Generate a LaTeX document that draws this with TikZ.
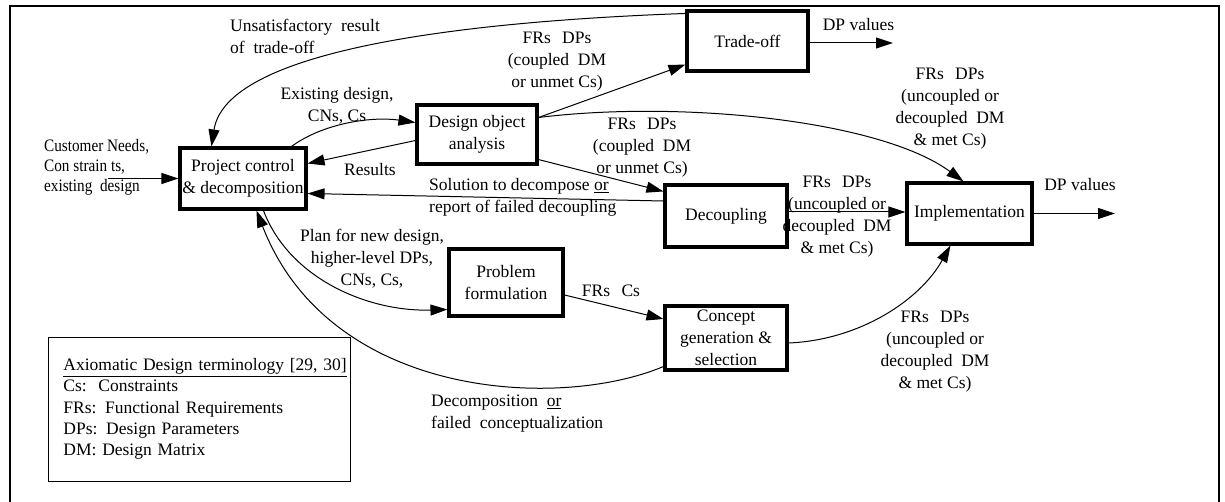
\documentclass[tikz,border=0pt]{standalone}
\usepackage{fontspec}
\setmainfont{Liberation Serif}
\newfontfamily\narrowserif[FakeStretch=0.87]{Liberation Serif}
\usetikzlibrary{arrows.meta,calc}
\newcommand{\wsp}{\hspace*{7pt}}
\begin{document}
\begin{tikzpicture}[x=1pt,y=-1pt,
  every node/.style={font=\fontsize{17.5}{22}\selectfont, inner sep=0pt},
  block/.style={draw, line width=3.1pt, align=center},
  lbl/.style={align=center},
  lbll/.style={align=left, anchor=west},
  arr/.style={line width=1pt, -{Triangle[length=17pt,width=11pt]}},
  conn/.style={line width=1pt},
]
\useasboundingbox (0,0) rectangle (1225,502);

% outer frame
\draw[line width=2pt] (10,510) -- (10,6) -- (1219,6) -- (1219,510);

% process blocks
\node[block, minimum width=126pt, minimum height=61pt] (proj) at (243,178.5) {Project control\\\& decomposition};
\node[block, minimum width=120pt, minimum height=59pt] (des) at (477,134.5) {Design object\\analysis};
\node[block, minimum width=121pt, minimum height=60pt] (trade) at (747.5,41) {Trade-off};
\node[block, minimum width=122pt, minimum height=62pt] (dec) at (726,216) {Decoupling};
\node[block, minimum width=125pt, minimum height=61pt] (impl) at (969.5,213.5) {Implementation};
\node[block, minimum width=114pt, minimum height=67pt] (prob) at (506,282.5) {Problem\\formulation};
\node[block, minimum width=122pt, minimum height=64pt] (conc) at (726,338) {Concept\\generation \&\\selection};

% terminology legend
\node[draw, line width=0.8pt, anchor=west, text width=272pt, inner xsep=15pt,
      minimum height=144pt, align=left, font=\fontsize{17.5}{21.3}\selectfont] (legend) at (48,409)
  {\underline{Axiomatic Design terminology [29, 30]}\\
   Cs:\ \ Constraints\\
   FRs: Functional Requirements\\
   DPs: Design Parameters\\
   DM: Design Matrix};

% free ends
\coordinate (inp) at (108,178.5);
\coordinate (out1) at (893,43);
\coordinate (out2) at (1115,213.5);

% input
\node[lbll, font=\narrowserif\fontsize{17.5}{20}\selectfont] (cnlbl) at (44,167)
  {Customer Needs,\\Con strain ts,\\existing \ design};
\draw[arr] (inp) -- (proj.west);

% trade-off feedback
\draw[arr] ($(trade.north west)+(0,4)$) .. controls (450,22) and (226,52) .. ($(proj.north west)+(33,0)$);
\node[lbll] (unsat) at (230,36.5) {Unsatisfactory\ \ result\\of\ \ trade-off};

% project control <-> design object analysis
\draw[arr] ($(proj.north east)+(-16,0)$) .. controls (322,124) and (370,116) .. ($(des.west)+(0,-12)$);
\node[lbl] (exlbl) at (337,106) {Existing design,\\CNs, Cs};
\draw[arr] ($(des.west)+(0,6)$) -- ($(proj.east)+(0,-15)$);
\node[lbl] (reslbl) at (370,170) {Results};

% decoupling back to project control
\draw[arr] ($(dec.west)+(0,-15)$) -- ($(proj.east)+(0,15)$);
\node[lbll] (sollbl) at (429,197.5) {Solution to decompose \underline{or}\\report of failed decoupling};

% design object analysis outputs
\draw[arr] ($(des.east)+(0,-17)$) -- ($(trade.south west)+(0,-8)$);
\node[lbl] (l1) at (557,61.5) {FRs\wsp{} DPs\\(coupled\ \ DM\\or unmet Cs)};
\draw[arr] ($(des.east)+(0,-17)$) .. controls (680,100) and (880,120) .. ($(impl.north west)+(58,0)$);
\node[lbl] (l2) at (950,108.5) {FRs\wsp{} DPs\\(uncoupled or\\decoupled\ \ DM\\\& met Cs)};
\draw[arr] ($(des.south east)+(0,-6)$) -- ($(dec.north west)+(0,8)$);
\node[lbl] (l3) at (642,148) {FRs\wsp{} DPs\\(coupled\ \ DM\\or unmet Cs)};

% decoupling to implementation
\draw[arr] ($(dec.east)+(0,-4)$) -- ($(impl.west)+(0,-1.5)$);
\node[lbl] (l4) at (837,216.5) {FRs\wsp{} DPs\\(uncoupled or\\decoupled\ \ DM\\\& met Cs)};

% outputs
\draw[arr] ($(trade.east)+(0,2)$) -- (out1);
\node[lbl] (dpv1) at (858.5,25) {DP values};
\draw[arr] (impl.east) -- (out2);
\node[lbl] (dpv2) at (1080,185) {DP values};

% new design branch
\draw[arr] ($(proj.south west)+(85,0)$) .. controls (290,280) and (370,312) .. ($(prob.west)+(0,27)$);
\node[lbl] (planlbl) at (372,259) {Plan for new design,\\higher-level DPs,\\CNs, Cs,};
\draw[arr] ($(prob.east)+(0,12.5)$) -- ($(conc.west)+(0,-19)$);
\node[lbl] (frcs) at (611,291) {FRs\wsp{} Cs};
\draw[arr] ($(conc.east)+(0,5)$) .. controls (860,340) and (920,300) .. ($(impl.south west)+(45,0)$);
\node[lbl] (l5) at (935,351.5) {FRs\wsp{} DPs\\(uncoupled or\\decoupled\ \ DM\\\& met Cs)};
\draw[arr] ($(conc.south west)+(0,-5)$) .. controls (560,410) and (330,400) .. ($(proj.south west)+(78,0)$);
\node[lbll] (decomp) at (431,414) {Decomposition\ \ \underline{or}\\failed\ \ conceptualization};

\end{tikzpicture}
\end{document}
